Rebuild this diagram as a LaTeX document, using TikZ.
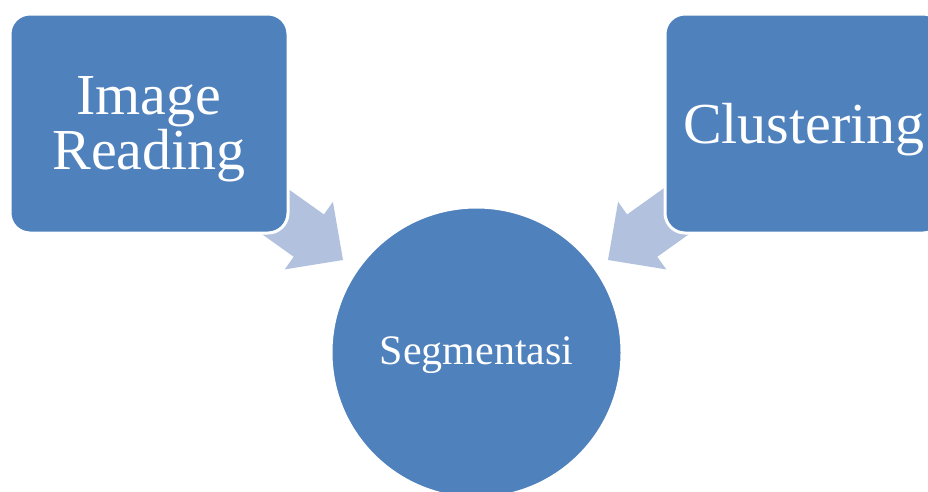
\documentclass[tikz,border=0pt]{standalone}
\usepackage{fontspec}
\setmainfont{Liberation Serif}
\definecolor{boxblue}{HTML}{4F81BD}
\definecolor{flowblue}{HTML}{B1C1DE}

\begin{document}
\begin{tikzpicture}[x=1pt,y=-1pt,
    stage/.style={rectangle, rounded corners=20pt, fill=boxblue, draw=white, line width=3pt,
                  minimum width=278pt, minimum height=219pt, inner sep=0pt, text depth=0pt,
                  text=white, align=center, font=\fontsize{58}{55}\selectfont},
    hub/.style={circle, fill=boxblue, draw=white, line width=3pt, minimum size=291pt,
                inner sep=0pt, text depth=3pt, text=white, font=\fontsize{42}{44}\selectfont},
    flow/.style={fill=flowblue}]
  \useasboundingbox (0,0) rectangle (928,491);
  \clip (0,0) rectangle (928,491);

  \coordinate (tipL) at (343,260);   % arrow points
  \coordinate (tipR) at (608,260);
  \foreach \tip/\ang in {tipL/-35.5, tipR/215.5}
  {  \fill[flow, shift={(\tip)}, rotate=\ang]
       (0,0) -- (-42,41.5) -- (-42,26) -- (-115,26) -- (-115,-26) -- (-42,-26) -- (-42,-41.5) -- cycle;
  }

  \node[stage] (read)  at (149,123.5) {Image\\Reading};
  \node[stage] (clust) at (804,123.5) {Clustering};
  \node[hub]   (seg)   at (476.5,352.5) {Segmentasi};
\end{tikzpicture}
\end{document}
